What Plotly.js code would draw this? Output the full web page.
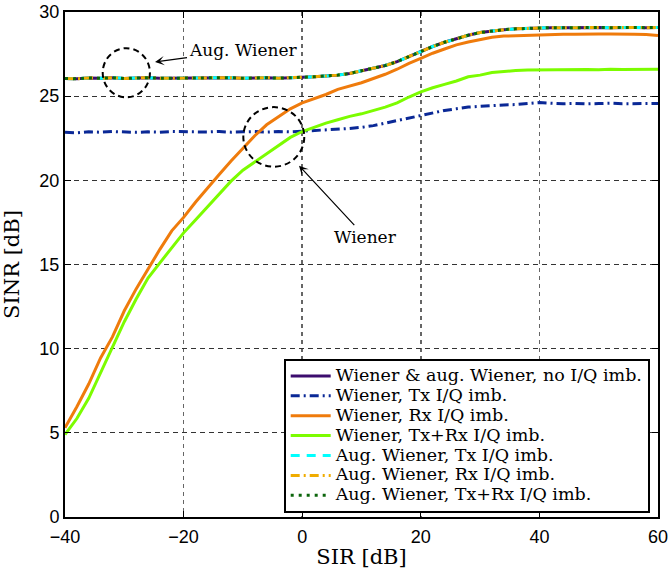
<!DOCTYPE html>
<html>
<head>
<meta charset="utf-8">
<script src="https://cdn.plot.ly/plotly-3.0.1.min.js"></script>
<style>html,body{margin:0;padding:0;background:#fff;}#chart{width:669px;height:572px;}</style>
</head>
<body>
<div id="chart"></div>
<script>
// SIR values [dB]
const sir = [-40,-38,-36,-34,-32,-30,-28,-26,-24,-22,-20,-18,-16,-14,-12,-10,-8,-6,-4,-2,0,2,4,6,8,10,12,14,16,18,20,22,24,26,28,30,32,34,36,38,40,42,44,46,48,50,52,54,56,58,60];

// SINR [dB] per configuration
const sinrNoImb = [26.05,26.03,26.08,26.06,26.10,26.05,26.08,26.10,26.06,26.07,26.08,26.06,26.09,26.07,26.10,26.06,26.08,26.10,26.07,26.09,26.12,26.15,26.20,26.25,26.35,26.50,26.65,26.82,27.05,27.35,27.65,27.95,28.20,28.42,28.62,28.78,28.88,28.95,29.00,29.03,29.06,29.07,29.06,29.08,29.07,29.08,29.07,29.09,29.08,29.07,29.08];
const sinrWienerTx = [22.85,22.82,22.88,22.86,22.90,22.87,22.85,22.88,22.86,22.90,22.88,22.85,22.87,22.90,22.86,22.88,22.90,22.87,22.90,22.88,22.92,22.95,23.00,23.02,23.08,23.15,23.25,23.40,23.55,23.72,23.88,24.02,24.15,24.25,24.35,24.40,24.45,24.48,24.50,24.55,24.62,24.58,24.55,24.57,24.54,24.56,24.58,24.55,24.57,24.56,24.57];
const sinrWienerRx = [5.3,6.55,7.9,9.45,10.7,12.25,13.55,14.75,15.9,17.0,17.8,18.7,19.55,20.35,21.15,21.9,22.65,23.3,23.8,24.25,24.6,24.85,25.1,25.4,25.6,25.8,26.05,26.3,26.6,26.95,27.25,27.55,27.8,28.05,28.22,28.38,28.5,28.57,28.6,28.63,28.65,28.66,28.68,28.68,28.7,28.7,28.69,28.7,28.68,28.66,28.6];
const sinrWienerTxRx = [4.9,5.85,7.05,8.6,10.15,11.6,12.95,14.2,15.1,16.0,16.88,17.65,18.4,19.2,19.95,20.6,21.1,21.6,22.1,22.55,22.9,23.15,23.4,23.6,23.8,23.95,24.15,24.35,24.6,24.95,25.25,25.5,25.7,25.9,26.15,26.25,26.4,26.48,26.52,26.55,26.56,26.58,26.55,26.6,26.58,26.57,26.6,26.58,26.6,26.58,26.6];
const sinrAugTx = sinrNoImb.slice();
const sinrAugRx = sinrNoImb.slice();
const sinrAugTxRx = sinrNoImb.slice();

const seriesNames = [
  'Wiener &amp; aug. Wiener, no I/Q imb.',
  'Wiener, Tx I/Q imb.',
  'Wiener, Rx I/Q imb.',
  'Wiener, Tx+Rx I/Q imb.',
  'Aug. Wiener, Tx I/Q imb.',
  'Aug. Wiener, Rx I/Q imb.',
  'Aug. Wiener, Tx+Rx I/Q imb.'
];
const seriesValues = [sinrNoImb, sinrWienerTx, sinrWienerRx, sinrWienerTxRx, sinrAugTx, sinrAugRx, sinrAugTxRx];
const seriesStyles = [
  {color:'#3c0d6e', dash:'solid'},
  {color:'#0a2896', dash:'9px,4px,2px,4px'},
  {color:'#ef7b0c', dash:'solid'},
  {color:'#7cfc00', dash:'solid'},
  {color:'#00ffff', dash:'9px,7px'},
  {color:'#f0ac00', dash:'9px,4px,2px,4px'},
  {color:'#0b650b', dash:'3px,5px'}
];

const traces = seriesValues.map((v,i)=>({
  x: sir, y: v, type:'scatter', mode:'lines',
  name: '<span style="font-size:17.5px">' + seriesNames[i] + '</span>',
  line:{color: seriesStyles[i].color, dash: seriesStyles[i].dash, width:3}
}));

const serif = 'DejaVu Serif, Liberation Serif, serif';
const sans = 'Liberation Sans, Arial, sans-serif';

const layout = {
  width:669, height:572,
  margin:{l:65, r:11, t:12, b:55},
  paper_bgcolor:'#fff', plot_bgcolor:'#fff',
  showlegend:true,
  xaxis:{
    range:[-40,60], tickvals:[-40,-20,0,20,40,60],
    showline:true, linecolor:'#000', linewidth:2, mirror:'ticks',
    ticks:'inside', ticklen:6, tickcolor:'#000', tickwidth:1,
    showgrid:true, gridcolor:'#666', griddash:'4px,4px', gridwidth:1.5,
    zeroline:false, ticklabelstandoff:2,
    tickfont:{family:sans, size:18, color:'#000'},
    title:{text:'SIR [dB]', font:{family:serif, size:21, color:'#000'}, standoff:4}
  },
  yaxis:{
    range:[0,30], tickvals:[0,5,10,15,20,25,30],
    showline:true, linecolor:'#000', linewidth:2, mirror:'ticks',
    ticks:'inside', ticklen:6, tickcolor:'#000', tickwidth:1,
    showgrid:true, gridcolor:'#333', griddash:'5px,4px', gridwidth:1,
    zeroline:false,
    tickfont:{family:sans, size:18, color:'#000'},
    title:{text:'SINR [dB]', font:{family:serif, size:21, color:'#000'}, standoff:14}
  },
  legend:{
    x:0.986, y:0.008, xanchor:'right', yanchor:'bottom',
    bgcolor:'#fff', bordercolor:'#000', borderwidth:2,
    font:{family:serif, size:13, color:'#000'},
    itemwidth:40, tracegroupgap:0
  },
  shapes:[
    {type:'circle', xref:'x', yref:'y', x0:-29.66-3.98, x1:-29.66+3.98, y0:26.39-1.46, y1:26.39+1.46,
     line:{color:'#000', width:2, dash:'6px,4px'}},
    {type:'circle', xref:'x', yref:'y', x0:-4.79-5.14, x1:-4.79+5.14, y0:22.58-1.77, y1:22.58+1.77,
     line:{color:'#000', width:2, dash:'6px,4px'}}
  ],
  annotations:[
    {x:-24.82, y:27.03, xref:'x', yref:'y', text:'Aug. Wiener', showarrow:true,
     ax:88, ay:-12, arrowhead:3, arrowsize:1.3, arrowwidth:1.2, arrowcolor:'#000',
     font:{family:serif, size:17, color:'#000'}},
    {x:-0.54, y:20.87, xref:'x', yref:'y', text:'Wiener', showarrow:true,
     ax:66, ay:71, arrowhead:3, arrowsize:1.3, arrowwidth:1.2, arrowcolor:'#000',
     font:{family:serif, size:17, color:'#000'}}
  ]
};

Plotly.newPlot('chart', traces, layout, {displayModeBar:false, staticPlot:true});
</script>
</body>
</html>
